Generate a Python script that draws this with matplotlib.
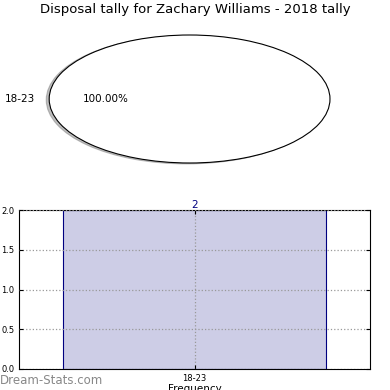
import matplotlib
matplotlib.use("Agg")
import matplotlib.pyplot as plt

categories = ["18-23"]
values = [2]
title = "Disposal tally for Zachary Williams - 2018 tally"

fig = plt.figure(figsize=(3.9, 3.9), dpi=100)

# Pie axes
axp = fig.add_axes([19/390, 1-179/390, 351/390, 160/390])
wedges, texts, autotexts = axp.pie(values, labels=categories, autopct="%1.2f%%",
                                   shadow=dict(ox=-0.015, oy=-0.01, shade=0.5),
                                   startangle=0, center=(-0.035, 0),
                                   colors=["white"],
                                   wedgeprops=dict(edgecolor="black", linewidth=0.8),
                                   textprops=dict(fontsize=7.5))
axp.set_aspect("auto")
axp.set_xlim(-1.25, 1.25)
axp.set_ylim(-1.25, 1.25)
axp.axis("off")
fig.text(0.5, 1-10/390, title, ha="center", va="center", fontsize=9.5)

# Bar axes
axb = fig.add_axes([19/390, 1-369/390, 351/390, 159/390])
x = list(range(len(categories)))
bars = axb.bar(x, values, width=0.75, color="#cdcde6",
               edgecolor="navy", linewidth=0.8)
axb.set_xlim(-0.5, 0.5)
axb.set_ylim(0, 2.0)
axb.set_yticks([0.0, 0.5, 1.0, 1.5, 2.0])
axb.set_yticklabels(["0.0", "0.5", "1.0", "1.5", "2.0"])
axb.set_xticks(x)
axb.set_xticklabels(categories)
axb.tick_params(labelsize=6, direction="in", top=True, right=True, length=3)
axb.grid(True, linestyle=":", color="#999999", linewidth=0.9)
axb.set_axisbelow(False)
for b, v in zip(bars, values):
    axb.text(b.get_x() + b.get_width()/2, v, str(v), ha="center", va="bottom",
             color="navy", fontsize=7.5)
axb.set_xlabel("Frequency", fontsize=7.5, labelpad=1)

fig.text(0.0, 1-380/390, "Dream-Stats.com", fontsize=8.5, color="#888888",
         ha="left", va="center")

fig.savefig("out.png", dpi=100)
